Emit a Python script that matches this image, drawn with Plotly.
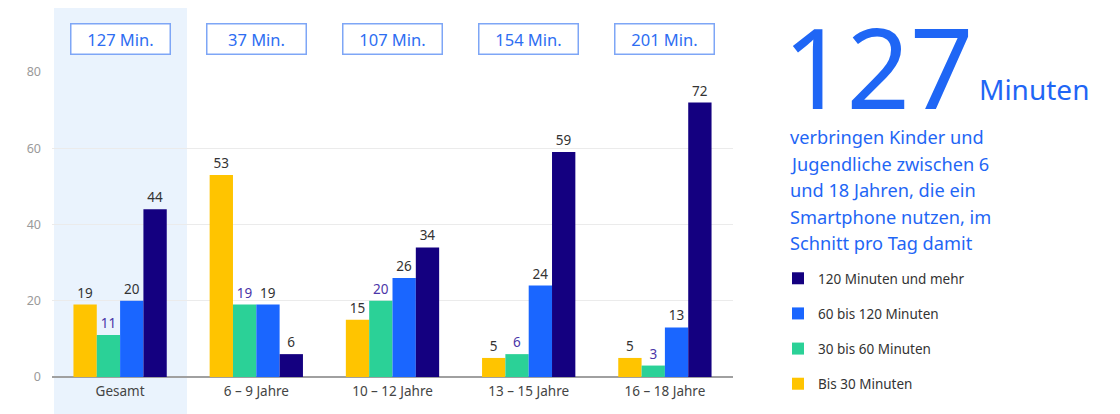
import plotly.graph_objects as go

categories = ["Gesamt", "6 – 9 Jahre", "10 – 12 Jahre", "13 – 15 Jahre", "16 – 18 Jahre"]
totals = ["127 Min.", "37 Min.", "107 Min.", "154 Min.", "201 Min."]
series_names = ["Bis 30 Minuten", "30 bis 60 Minuten", "60 bis 120 Minuten", "120 Minuten und mehr"]
bis30 = [19, 53, 15, 5, 5]
m30_60 = [11, 19, 20, 6, 3]
m60_120 = [20, 19, 26, 24, 13]
m120plus = [44, 6, 34, 59, 72]
y_ticks = [0, 20, 40, 60, 80]
headline_number = "127"
headline_unit = "Minuten"
paragraph_lines = [
    "verbringen Kinder und",
    "Jugendliche zwischen 6",
    "und 18 Jahren, die ein",
    "Smartphone nutzen, im",
    "Schnitt pro Tag damit",
]

colors = ["#FFC400", "#2BD197", "#1A66FF", "#140080"]
label_colors = ["#333333", "#4B36A8", "#333333", "#333333"]
ranks = [4, 3, 2, 1]
FONT = "Noto Sans"
BLUE_TEXT = "#1F66F5"

fig = go.Figure()
for name, vals, col, lcol, rk in zip(series_names, [bis30, m30_60, m60_120, m120plus], colors, label_colors, ranks):
    fig.add_trace(go.Bar(
        x=categories, y=vals, name=name, marker_color=col, marker_line_width=0,
        text=[str(v) for v in vals], textposition="outside",
        textfont=dict(color=lcol, size=13.5, family=FONT),
        cliponaxis=False, legendgroup=name, legendrank=rk,
    ))

OFF = 8  # page body margin
W, H = 1120 - OFF, 414 - OFF
L = 52 - OFF
R = W - (733 - OFF)
T = 72 - OFF
B = H - (377 - OFF)
pw = W - L - R
ph = H - T - B

def px_x(p):
    return (p - OFF - L) / pw

def px_y(p):
    return (H - B - (p - OFF)) / ph

shapes = [dict(type="rect", xref="paper", yref="paper",
               x0=px_x(54), x1=px_x(187), y0=px_y(420), y1=px_y(0),
               fillcolor="#EAF3FD", line_width=0, layer="below")]

annotations = []
for i, t in enumerate(totals):
    annotations.append(dict(
        x=categories[i], xref="x", y=px_y(38.5), yref="paper", text=t, showarrow=False,
        font=dict(size=16.5, color="#2E6EF2", family=FONT),
        width=96, height=27, bordercolor="#7EA6F6", borderwidth=1.5, borderpad=1,
        bgcolor="white", xanchor="center", yanchor="middle",
    ))

annotations.append(dict(
    xref="paper", yref="paper", x=px_x(781), y=px_y(66), text=headline_number,
    showarrow=False, xanchor="left", yanchor="middle",
    font=dict(size=111, color=BLUE_TEXT, family=FONT),
))
annotations.append(dict(
    xref="paper", yref="paper", x=px_x(977), y=px_y(89), text=headline_unit,
    showarrow=False, xanchor="left", yanchor="middle",
    font=dict(size=28, color=BLUE_TEXT, family=FONT),
))
for k, line in enumerate(paragraph_lines):
    annotations.append(dict(
        xref="paper", yref="paper", x=px_x(788), y=px_y(137 + k * 26.5), text=line,
        showarrow=False, xanchor="left", yanchor="middle",
        font=dict(size=18.2, color=BLUE_TEXT, family=FONT),
    ))

fig.update_layout(
    width=W, height=H,
    margin=dict(l=L, r=R, t=T, b=B, autoexpand=False),
    paper_bgcolor="white", plot_bgcolor="rgba(0,0,0,0)",
    barmode="group", bargap=0.315, bargroupgap=0,
    font=dict(family=FONT, color="#333333"),
    shapes=shapes, annotations=annotations,
    legend=dict(
        traceorder="grouped", x=px_x(778), y=px_y(263), xanchor="left", yanchor="top",
        font=dict(size=13.5, color="#333333", family=FONT), tracegroupgap=14.6,
        bgcolor="rgba(0,0,0,0)", itemclick=False,
    ),
    showlegend=True,
)
fig.update_xaxes(showgrid=False, tickfont=dict(size=13.5, color="#444444", family=FONT),
                 ticks="", ticklabelstandoff=4)
fig.update_yaxes(range=[0, 80], tickvals=y_ticks, showgrid=True, gridcolor="#EBEBEB", gridwidth=1,
                 zeroline=True, zerolinecolor="#A0A0A0", zerolinewidth=1.5,
                 tickfont=dict(size=12.5, color="#9A9A9A", family=FONT), ticks="", ticklabelstandoff=10)

fig.write_html("out.html")
